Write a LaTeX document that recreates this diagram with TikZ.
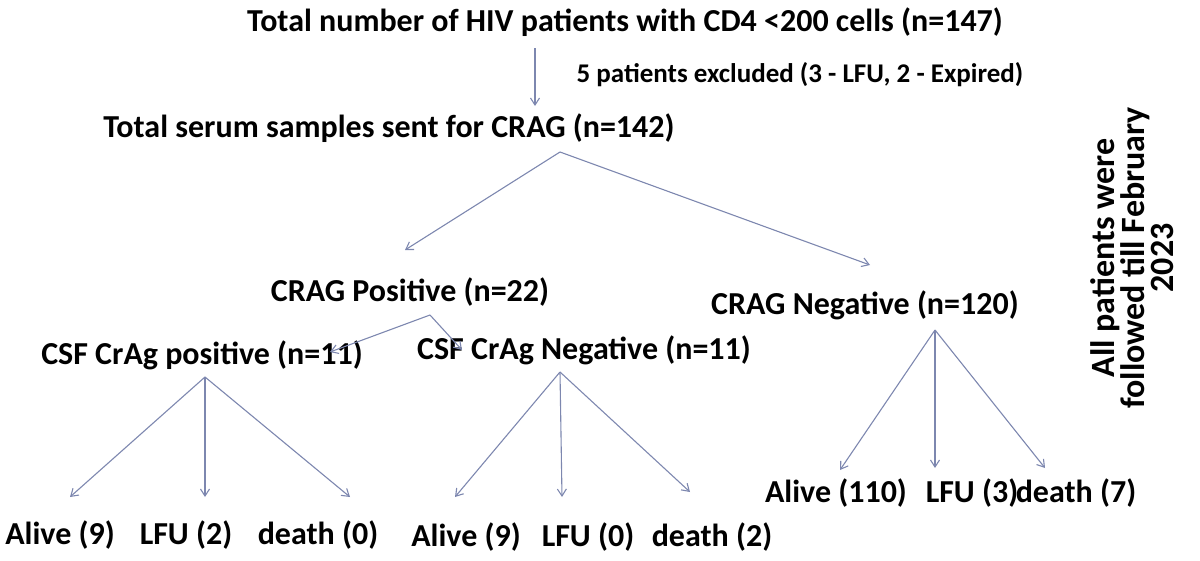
\documentclass[tikz,border=0pt]{standalone}
\usepackage{fontspec}
\setmainfont{Carlito}
\usetikzlibrary{arrows.meta}
\definecolor{arr}{RGB}{125,135,175}
\begin{document}
\begin{tikzpicture}[x=1pt,y=-1pt,
  t/.style={font=\fontsize{32}{36}\selectfont\bfseries,inner sep=0pt},
  s/.style={font=\fontsize{27}{30}\selectfont\bfseries,inner sep=0pt},
  a/.style={draw=arr,line width=1.1pt,-{Straight Barb[length=7pt,width=9pt]}}]
\useasboundingbox (0,0) rectangle (1200,560);
\node[t] (top) at (625,22) {Total number of HIV patients with CD4 <200 cells (n=147)};
\node[s] (exc) at (800,75) {5 patients excluded (3 - LFU, 2 - Expired)};
\node[t] (ser) at (389,128) {Total serum samples sent for CRAG (n=142)};
\node[t] (pos) at (410,292) {CRAG Positive (n=22)};
\node[t] (neg) at (865,305) {CRAG Negative (n=120)};
\node[t] (cp) at (202,355) {CSF CrAg positive (n=11)};
\node[t] (cn) at (584,350) {CSF CrAg Negative (n=11)};
\node[t] (l1) at (60,535) {Alive (9)};
\node[t] (l2) at (186,535) {LFU (2)};
\node[t] (l3) at (318,535) {death (0)};
\node[t] (l4) at (466,537) {Alive (9)};
\node[t] (l5) at (588,537) {LFU (0)};
\node[t] (l6) at (712,537) {death (2)};
\node[t] (l7) at (836,493) {Alive (110)};
\node[t] (l8) at (972,493) {LFU (3)};
\node[t] (l9) at (1076,493) {death (7)};
\node[font=\fontsize{34}{29}\selectfont\bfseries,rotate=90,align=center,inner sep=0pt] (note) at (1132,258) {All patients were\\followed till February\\2023};
\coordinate (c0) at (535,48);
\coordinate (c0e) at (535,106);
\coordinate (c1) at (560,152);
\coordinate (c2) at (430,315);
\coordinate (c3) at (205,377);
\coordinate (c4) at (560,372);
\coordinate (c5) at (935,330);
\draw[a] (c0) -- (c0e);
\draw[a] (c1) -- (405,250);
\draw[a] (c1) -- (870,265);
\draw[a] (c2) -- (330,352);
\draw[a] (c2) -- (462,350);
\draw[a] (c3) -- (70,497);
\draw[a] (c3) -- (205,497);
\draw[a] (c3) -- (350,497);
\draw[a] (c4) -- (455,497);
\draw[a] (c4) -- (562,497);
\draw[a] (c4) -- (690,492);
\draw[a] (c5) -- (840,470);
\draw[a] (c5) -- (935,468);
\draw[a] (c5) -- (1045,468);
\end{tikzpicture}
\end{document}
